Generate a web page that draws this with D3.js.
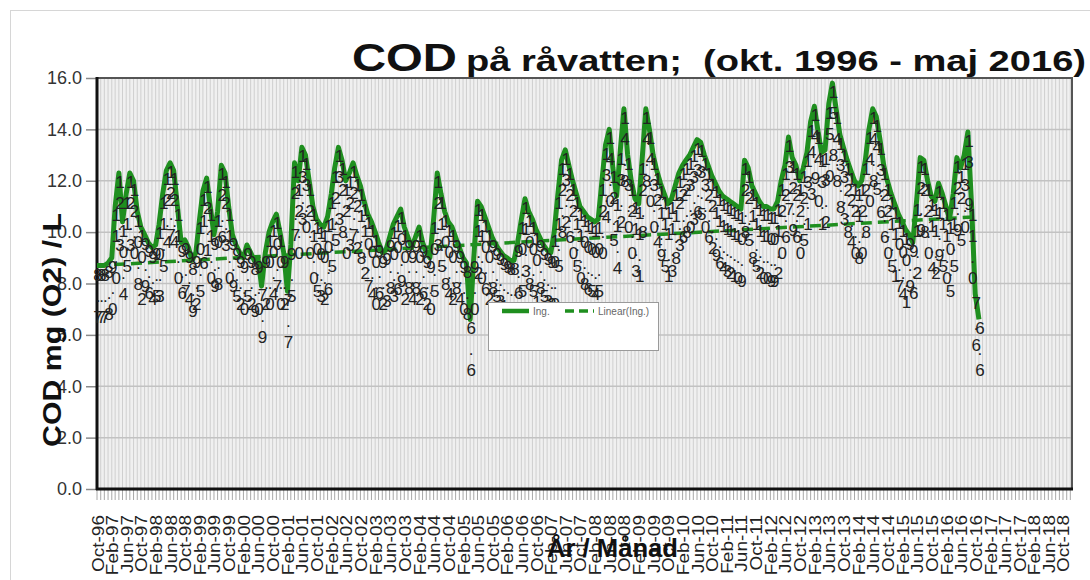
<!DOCTYPE html>
<html><head><meta charset="utf-8">
<script src="https://cdn.jsdelivr.net/npm/d3@7/dist/d3.min.js"></script>
<style>
body{margin:0;background:#fff;}
svg{display:block;font-family:Arial,"Liberation Sans",sans-serif;}
</style>
</head><body>
<svg id="chart" width="1090" height="580"></svg>
<script>
// ---- data (monthly COD, raw water "Ing.") ----
const firstMonth = "1996-10";
const ing1996 = [8.7, 8.7, 8.7];
const ing1997 = [8.8, 9.0, 11.0, 12.3, 10.4, 11.5, 12.3, 12.0, 10.8, 10.2, 9.9, 9.6];
const ing1998 = [9.4, 9.5, 10.3, 11.5, 12.4, 12.7, 12.4, 11.0, 9.6, 9.7, 9.4, 8.9];
const ing1999 = [9.2, 10.5, 11.6, 12.1, 11.0, 9.9, 10.8, 12.6, 12.3, 11.0, 9.9, 9.5];
const ing2000 = [9.2, 9.0, 9.5, 9.2, 8.9, 9.0, 7.9, 9.2, 10.0, 10.4, 10.7, 10.0];
const ing2001 = [9.2, 7.7, 9.5, 12.7, 12.0, 13.3, 13.0, 12.0, 11.0, 10.5, 10.3, 10.2];
const ing2002 = [10.6, 11.5, 12.5, 13.3, 12.8, 12.0, 12.3, 12.7, 12.2, 11.8, 11.2, 10.7];
const ing2003 = [10.4, 10.0, 9.6, 9.2, 9.3, 9.8, 10.3, 10.6, 10.9, 10.2, 9.8, 9.4];
const ing2004 = [9.8, 10.2, 9.6, 9.2, 9.0, 10.5, 12.3, 11.5, 10.8, 10.4, 10.2, 9.8];
const ing2005 = [9.4, 9.0, 8.8, 6.6, 9.0, 11.2, 11.0, 10.6, 10.2, 9.8, 9.5, 9.3];
const ing2006 = [9.1, 9.0, 8.9, 8.9, 9.6, 10.5, 11.3, 10.8, 10.5, 10.1, 9.8, 9.5];
const ing2007 = [9.3, 9.2, 10.0, 11.5, 12.8, 13.2, 12.6, 12.0, 11.5, 11.0, 10.8, 10.6];
const ing2008 = [10.5, 10.4, 10.5, 12.0, 13.4, 14.0, 12.5, 11.4, 13.2, 14.8, 13.0, 12.0];
const ing2009 = [11.3, 11.1, 12.8, 14.8, 14.0, 13.0, 12.4, 11.9, 11.5, 11.1, 11.3, 11.8];
const ing2010 = [12.3, 12.6, 12.8, 13.0, 13.3, 13.6, 13.5, 13.0, 12.6, 12.2, 11.9, 11.6];
const ing2011 = [11.4, 11.3, 11.2, 11.1, 11.0, 10.9, 12.8, 12.5, 11.8, 11.5, 11.2, 11.0];
const ing2012 = [11.0, 10.9, 10.9, 11.2, 12.0, 12.6, 13.7, 12.9, 12.6, 12.0, 12.5, 13.1];
const ing2013 = [14.3, 14.9, 14.0, 13.1, 13.2, 15.0, 15.8, 14.8, 13.8, 13.3, 12.8, 12.4];
const ing2014 = [12.0, 11.8, 12.0, 12.8, 14.0, 14.8, 14.5, 13.6, 12.6, 12.0, 11.5, 11.1];
const ing2015 = [10.7, 10.4, 10.1, 9.9, 9.6, 11.2, 12.9, 12.8, 12.0, 11.4, 11.2, 11.9];
const ing2016 = [11.5, 11.0, 10.5, 11.5, 12.9, 12.5, 13.0, 13.9, 11.0, 7.6, 6.6];
// linear trend (Linear(Ing.)) values at first and last month
const trendEnds = [8.7, 10.6];
// axes
const yTicks = [0, 2, 4, 6, 8, 10, 12, 14, 16];
const xAxisEnd = "2018-12-15";
const xLabelEveryMonths = 4;
const xLabelLast = "2018-10";
const titleMain = "COD";
const titleRest = "på råvatten;\u00a0\u00a0(okt. 1996 - maj 2016)";
const yTitle = "COD mg (O2) / L";
const xTitle = "År / Månad";
const legendNames = ["Ing.", "Linear(Ing.)"];

// ---- build ----
const values = [].concat(ing1996, ing1997, ing1998, ing1999, ing2000, ing2001, ing2002,
  ing2003, ing2004, ing2005, ing2006, ing2007, ing2008, ing2009, ing2010, ing2011,
  ing2012, ing2013, ing2014, ing2015, ing2016);
const parseM = d3.timeParse("%Y-%m");
const start = parseM(firstMonth);
const data = values.map((v, i) => ({date: d3.timeMonth.offset(start, i), v}));

const svg = d3.select("#chart");
const P = {l: 97, r: 1072, t: 78, b: 489};

// outer frame
svg.append("rect").attr("x", 10.5).attr("y", 10.5).attr("width", 1100).attr("height", 600)
  .attr("fill", "#fff").attr("stroke", "#d6d6d6");

const x = d3.scaleTime().domain([start, d3.timeParse("%Y-%m-%d")(xAxisEnd)]).range([P.l, P.r]);
const y = d3.scaleLinear().domain([0, 16]).range([P.b, P.t]);

// plot background
svg.append("rect").attr("x", P.l).attr("y", P.t).attr("width", P.r - P.l).attr("height", P.b - P.t)
  .attr("fill", "#f0f0f0");

const months = d3.timeMonth.range(start, x.domain()[1]);
svg.append("g").selectAll("line").data(months).join("line")
  .attr("x1", d => x(d)).attr("x2", d => x(d)).attr("y1", P.t).attr("y2", P.b)
  .attr("stroke", "#cfcfcf").attr("stroke-width", 1);
svg.append("g").selectAll("line").data(yTicks).join("line")
  .attr("x1", P.l).attr("x2", P.r).attr("y1", d => y(d)).attr("y2", d => y(d))
  .attr("stroke", "#c2c2c2").attr("stroke-width", 1.5);

// monthly tick marks under axis
svg.append("g").selectAll("line").data(months).join("line")
  .attr("x1", d => x(d)).attr("x2", d => x(d)).attr("y1", P.b).attr("y2", P.b + 11)
  .attr("stroke", "#a8a8a8").attr("stroke-width", 1);

// y axis
const yAxis = d3.axisLeft(y).tickValues(yTicks).tickFormat(d3.format(".1f")).tickSize(11).tickPadding(4);
const gy = svg.append("g").attr("transform", `translate(${P.l},0)`).call(yAxis);
gy.select(".domain").remove();
gy.selectAll(".tick line").attr("stroke", "#8a8a8a").attr("stroke-width", 1.5);
gy.selectAll(".tick text").attr("font-size", 18).attr("fill", "#333").attr("font-family", "Arial, Liberation Sans, sans-serif");

// x axis labels
const labelDates = d3.timeMonth.every(1).range(start, d3.timeMonth.offset(parseM(xLabelLast), 1))
  .filter((d, i) => i % xLabelEveryMonths === 0);
const fmt = d3.timeFormat("%b-%y");
const xAxis = d3.axisBottom(x).tickValues(labelDates).tickFormat(fmt).tickSize(0);
const gx = svg.append("g").attr("transform", `translate(0,${P.b})`).call(xAxis);
gx.select(".domain").remove();
gx.selectAll(".tick text")
  .attr("font-size", 19).attr("fill", "#222").attr("font-family", "Arial, Liberation Sans, sans-serif")
  .attr("text-anchor", "end").attr("dy", null).attr("y", 0)
  .attr("transform", "translate(6,26) rotate(-90) scale(1,0.9)");

// plot border
svg.append("rect").attr("x", P.l).attr("y", P.t).attr("width", P.r - P.l).attr("height", P.b - P.t)
  .attr("fill", "none").attr("stroke", "#555").attr("stroke-width", 2);
svg.append("line").attr("x1", P.l).attr("x2", P.l).attr("y1", P.t - 1).attr("y2", P.b + 1)
  .attr("stroke", "#111").attr("stroke-width", 3);
svg.append("line").attr("x1", P.l - 1).attr("x2", P.r + 1).attr("y1", P.b).attr("y2", P.b)
  .attr("stroke", "#111").attr("stroke-width", 3);

// data line
const green = "#1f8f1f";
const line = d3.line().x(d => x(d.date)).y(d => y(d.v));
svg.append("path").datum(data).attr("d", line).attr("fill", "none")
  .attr("stroke", green).attr("stroke-width", 5).attr("stroke-linejoin", "round");

// trend line
const trendData = [{date: data[0].date, v: trendEnds[0]}, {date: data[data.length - 1].date, v: trendEnds[1]}];
svg.append("path").datum(trendData).attr("d", line).attr("fill", "none")
  .attr("stroke", green).attr("stroke-width", 3.5).attr("stroke-dasharray", "11,6");

// data labels (wrapped one character per line)
const lblFmt = d3.format(".1f");
const gl = svg.append("g").attr("font-size", 17).attr("fill", "#222").attr("text-anchor", "middle");
data.forEach(d => {
  const chars = lblFmt(d.v).split("");
  chars.forEach((c, k) => {
    gl.append("text").attr("x", x(d.date) + 1).attr("y", y(d.v) + 15 + k * 21).text(c);
  });
});

// legend
const lg = svg.append("g");
lg.append("rect").attr("x", 488.5).attr("y", 302.5).attr("width", 170).attr("height", 48)
  .attr("fill", "#fff").attr("stroke", "#9a9a9a");
lg.append("line").attr("x1", 502).attr("x2", 529).attr("y1", 311).attr("y2", 311)
  .attr("stroke", green).attr("stroke-width", 4.5);
lg.append("text").attr("x", 533).attr("y", 315).attr("font-size", 10).attr("fill", "#666").text(legendNames[0]);
lg.append("line").attr("x1", 565).attr("x2", 594).attr("y1", 311).attr("y2", 311)
  .attr("stroke", green).attr("stroke-width", 3.5).attr("stroke-dasharray", "9,5");
lg.append("text").attr("x", 598).attr("y", 315).attr("font-size", 10).attr("fill", "#666").text(legendNames[1]);

// titles
svg.append("text").attr("x", 352).attr("y", 71).attr("font-size", 38).attr("font-weight", "bold")
  .attr("fill", "#111").attr("textLength", 105).attr("lengthAdjust", "spacingAndGlyphs").text(titleMain);
svg.append("text").attr("x", 466).attr("y", 71).attr("font-size", 30).attr("font-weight", "bold")
  .attr("fill", "#111").attr("textLength", 620).attr("lengthAdjust", "spacingAndGlyphs").text(titleRest);
svg.append("text").attr("transform", "translate(61,330) rotate(-90)").attr("text-anchor", "middle")
  .attr("font-size", 26).attr("font-weight", "bold").attr("fill", "#111")
  .attr("textLength", 234).attr("lengthAdjust", "spacingAndGlyphs").text(yTitle);
svg.append("text").attr("x", 547).attr("y", 557).attr("font-size", 26).attr("font-weight", "bold")
  .attr("fill", "#111").attr("textLength", 131).attr("lengthAdjust", "spacingAndGlyphs").text(xTitle);
</script>
</body></html>
